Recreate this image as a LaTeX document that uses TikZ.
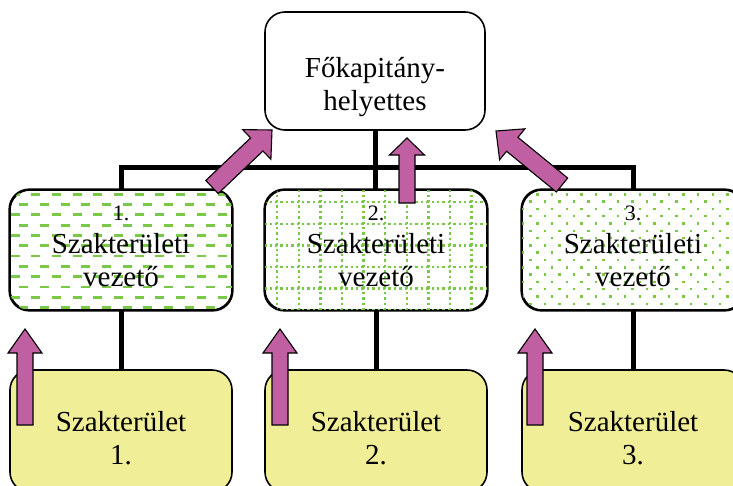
\documentclass[tikz,border=0pt]{standalone}
\usepackage{fontspec}
\setmainfont{Liberation Serif}
\usetikzlibrary{calc}

\definecolor{arrowfill}{RGB}{192,96,162}
\definecolor{areafill}{RGB}{241,238,152}
\definecolor{patgreen}{RGB}{122,200,72}

% smaller size for the ordinal above each leader title
\newcommand\ordsize{\fontsize{22}{33}\selectfont}

\tikzset{
  x=1pt, y=-1pt,
  box/.style={draw=black, line width=1.6pt, rounded corners=20pt,
    minimum width=222pt, minimum height=120pt, inner sep=0pt, fill=white},
  boxline/.style={draw=black, line width=1.6pt, rounded corners=20pt},
  areabox/.style={box, fill=areafill, minimum height=122pt},
  boxtext/.style={font=\fontsize{29}{33}\selectfont, align=center, inner sep=0pt},
  link/.style={line width=5pt, line join=miter},
  fatarrow/.style={draw=black, line width=1.1pt, fill=arrowfill, line join=miter},
}

% block arrow from tail #1 to tip #2; shaft half width #3, head half width #4, head length #5
\newcommand\blockarrow[5]{%
  \coordinate (ba-base) at ($(#2)!#5!(#1)$);
  \draw[fatarrow] ($(#1)!#3!90:(#2)$) -- ($(ba-base)!#3!90:(#2)$)
    -- ($(ba-base)!#4!90:(#2)$) -- (#2) -- ($(ba-base)!#4!-90:(#2)$)
    -- ($(ba-base)!#3!-90:(#2)$) -- ($(#1)!#3!-90:(#2)$) -- cycle;}

% green fills, clipped to the rounded outline of node #1
\newcommand\dashshade[1]{%
  \begin{scope}
    \clip[rounded corners=20pt] (#1.north west) rectangle (#1.south east);
    \begin{scope}[shift={(#1.north west)}]
      \foreach \r in {0,...,12}{
        \pgfmathsetmacro\yy{5+10.3*\r}
        \pgfmathsetmacro\ph{mod(\r,2)*(-8.7)+19.4}
        \draw[patgreen, line width=2.8pt, dash pattern=on 9pt off 11.7pt,
              dash phase=\ph pt] (0,\yy) -- (230,\yy);
      }
    \end{scope}
  \end{scope}
  \draw[boxline] (#1.north west) rectangle (#1.south east);}

\newcommand\gridshade[1]{%
  \begin{scope}
    \clip[rounded corners=20pt] (#1.north west) rectangle (#1.south east);
    \begin{scope}[shift={(#1.north west)}]
      \foreach \r in {0,...,5}{
        \pgfmathsetmacro\yy{13+21.6*\r}
        \draw[patgreen, line width=2.4pt, dash pattern=on 2.4pt off 3pt]
          (0,\yy) -- (230,\yy);
      }
      \foreach \c in {0,...,10}{
        \pgfmathsetmacro\xx{13+21.6*\c}
        \draw[patgreen, line width=2.4pt, dash pattern=on 2.4pt off 3pt]
          (\xx,0) -- (\xx,125);
      }
    \end{scope}
  \end{scope}
  \draw[boxline] (#1.north west) rectangle (#1.south east);}

\newcommand\dotshade[1]{%
  \begin{scope}
    \clip[rounded corners=20pt] (#1.north west) rectangle (#1.south east);
    \begin{scope}[shift={(#1.north west)}]
      \foreach \r in {0,...,17}{
        \pgfmathsetmacro\yy{3.8+7.3*\r}
        \pgfmathsetmacro\stag{mod(\r,2)*7.3+0.5}
        \foreach \c in {0,...,15}{
          \pgfmathsetmacro\xx{\stag+14.6*\c}
          \fill[patgreen] (\xx,\yy) rectangle ++(2.5,2.5);
        }
      }
    \end{scope}
  \end{scope}
  \draw[boxline] (#1.north west) rectangle (#1.south east);}

\begin{document}
\begin{tikzpicture}
  \useasboundingbox (0,0) rectangle (733,485);
  \clip (0,0) rectangle (733,485);

  % organisational links
  \coordinate (bus) at (375,167);

  % boxes
  \node[box] (chief) at (375,71) [minimum width=220pt, minimum height=118pt] {};
  \node[box] (lead1) at (121,250) {};
  \node[box] (lead2) at (376,250) {};
  \node[box] (lead3) at (633,250) {};
  \node[areabox] (area1) at (121,431) {};
  \node[areabox] (area2) at (376,431) {};
  \node[areabox] (area3) at (633,431) {};
  \dashshade{lead1}
  \gridshade{lead2}
  \dotshade{lead3}

  \draw[link] (lead1.north) |- (bus) -| (lead3.north);
  \draw[link] (chief.south) -- (chief.south |- lead2.north);
  \draw[link] (lead1.south) -- (area1.north);
  \draw[link] (lead2.south) -- (area2.north);
  \draw[link] (lead3.south) -- (area3.north);

  % texts
  \node[boxtext] (chief-t) at ($(chief.center)+(0,16)$) {Főkapitány-\\helyettes};
  \node[boxtext] (lead1-t) at ($(lead1.center)+(0,-4)$) {{\ordsize 1.}\\Szakterületi\\vezető};
  \node[boxtext] (lead2-t) at ($(lead2.center)+(0,-4)$) {{\ordsize 2.}\\Szakterületi\\vezető};
  \node[boxtext] (lead3-t) at ($(lead3.center)+(0,-4)$) {{\ordsize 3.}\\Szakterületi\\vezető};
  \node[boxtext] (area1-t) at ($(area1.center)+(0,7)$) {Szakterület\\1.};
  \node[boxtext] (area2-t) at ($(area2.center)+(0,7)$) {Szakterület\\2.};
  \node[boxtext] (area3-t) at ($(area3.center)+(0,7)$) {Szakterület\\3.};

  % reporting arrows
  \coordinate (r1a) at (212,187); \coordinate (r1b) at (272,130);
  \coordinate (r2a) at (407,203); \coordinate (r2b) at (407,138);
  \coordinate (r3a) at (562,185); \coordinate (r3b) at (496,131);
  \coordinate (s1a) at (25,425);  \coordinate (s1b) at (25,329);
  \coordinate (s2a) at (280,425); \coordinate (s2b) at (280,329);
  \coordinate (s3a) at (535,425); \coordinate (s3b) at (535,329);

  \blockarrow{r1a}{r1b}{9pt}{20.5pt}{21pt}
  \blockarrow{r2a}{r2b}{8pt}{17.5pt}{17pt}
  \blockarrow{r3a}{r3b}{9pt}{20pt}{21pt}
  \blockarrow{s1a}{s1b}{8pt}{17pt}{24pt}
  \blockarrow{s2a}{s2b}{8pt}{17pt}{24pt}
  \blockarrow{s3a}{s3b}{8pt}{17pt}{24pt}
\end{tikzpicture}
\end{document}
